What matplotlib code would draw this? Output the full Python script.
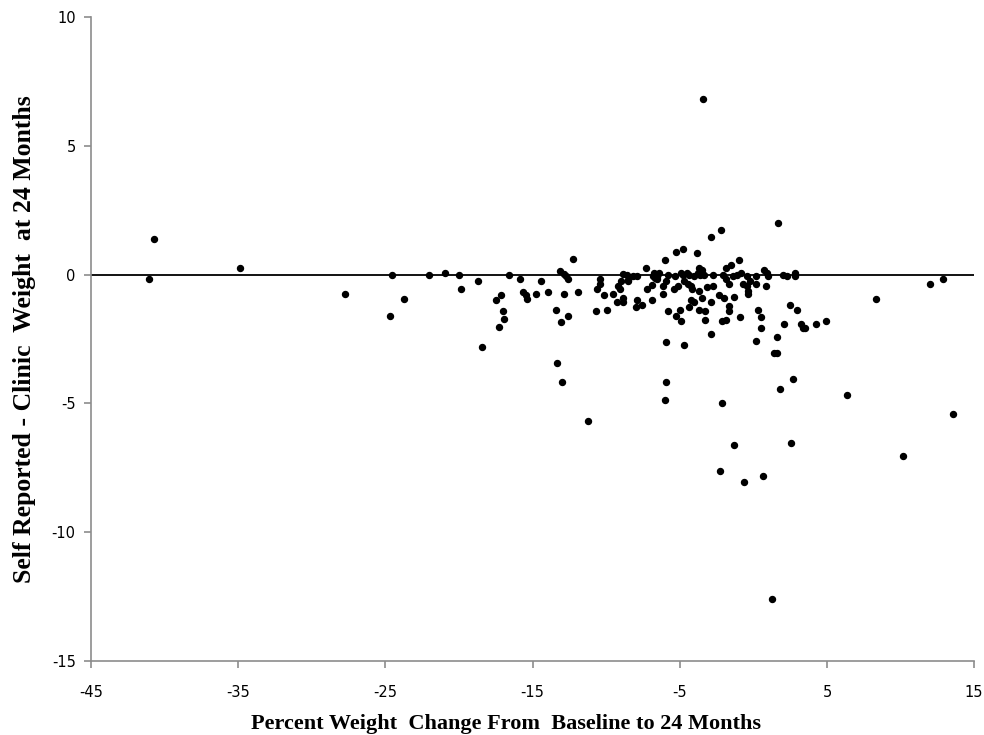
import matplotlib
matplotlib.use('Agg')
import matplotlib.pyplot as plt

plt.rcParams['axes.unicode_minus'] = False

# percent weight change (x) and self reported - clinic weight (y)
pct_change = [
    -40.72, -41.06, -34.86, -27.74, -24.57, -24.69,
    -23.71, -22.06, -20.97, -19.98, -19.89, -18.69, -18.47, -16.60, -17.49, -17.15,
    -17.03, -16.92, -17.26, -15.86, -15.65, -15.47, -15.40, -14.75, -14.41, -13.98,
    -13.43, -13.09, -12.58, -13.34, -13.00, -13.12, -12.89, -12.73, -12.62, -12.89,
    -12.26, -11.90, -11.25, -10.72, -10.40, -10.40, -10.61, -10.15, -9.95, -9.52,
    -9.29, -8.88, -8.84, -9.22, -9.07, -9.00, -8.84, -8.50, -8.16, -7.93, -7.32,
    -7.23, -7.89, -8.00, -7.55, -6.89, -6.89, -6.57, -6.43, -6.00, -5.26, -6.12,
    -6.12, -5.94, -5.80, -5.26, -5.92, -5.92, -6.00, -5.37,
    1.65, -2.20, -2.86, -4.81, -3.83, -1.00, -1.55, -1.86, -3.72, -3.49, -8.61,
    -6.85, -6.76, -6.54, -6.71,
    -5.80, -5.33, -4.92, -4.76, -4.53, -4.35, -4.04, -3.76, -3.61, -3.36, -2.77,
    -2.05, -1.37, -1.10, -0.87, -0.46, 0.20, 0.74, 0.90, 1.01, 2.01, 2.26, 2.83, 2.83,
    -8.52, -5.12, -5.01, -4.92, -4.69, -4.69, -4.47, -4.26, -4.15, -4.26, -4.04,
    -4.36, -3.72, -3.52, -3.72, -3.29, -3.29, -3.18, -2.86, -2.86, -2.75, -2.32,
    -1.98, -1.86, -1.66, -1.66, -1.66, -2.10, -1.86, -1.32, -0.89, -0.69, -0.46,
    -0.35, -0.35, -0.23, 0.20, 0.31, 0.54, 0.54, 0.20, 0.86, 1.63, 1.40, 1.58,
    1.83, 2.71, 2.51, 2.94, 2.06, 3.23, 3.34, 3.50, 4.25, 4.91, 8.31, 11.99, 12.85,
    6.33, 13.53, -2.10,
    -1.29, 2.53, 10.18, -2.29, -0.64, 0.65, 1.24, -3.40,
]
weight_diff = [
    1.37, -0.18, 0.26, -0.74, 0.00, -1.62,
    -0.93, 0.00, 0.08, 0.00, -0.56, -0.25, -2.80, 0.00, -0.98, -0.80,
    -1.42, -1.73, -2.04, -0.18, -0.66, -0.78, -0.93, -0.75, -0.25, -0.67,
    -1.36, -1.86, -1.62, -3.43, -4.18, 0.14, 0.01, -0.06, -0.19, -0.75,
    0.62, -0.67, -5.68, -1.42, -0.19, -0.35, -0.56, -0.80, -1.36, -0.75,
    -1.06, -0.92, -1.05, -0.45, -0.56, -0.26, 0.01, -0.23, -0.04, -0.05, 0.26,
    -0.57, -0.98, -1.25, -1.19, -0.98, -0.39, -0.08, 0.08, 0.57, 0.88, -0.75,
    -0.45, -0.25, -1.42, -1.62, -2.61, -4.18, -4.86, -0.56,
    2.01, 1.75, 1.44, 1.01, 0.82, 0.57, 0.38, 0.26, 0.26, 0.19, 0.00,
    -0.05, 0.07, -0.17, -0.15,
    0.00, -0.05, 0.07, 0.00, 0.07, 0.00, -0.05, 0.07, 0.00, 0.00, 0.00,
    0.00, -0.05, 0.00, 0.07, -0.05, -0.05, 0.17, 0.07, -0.05, 0.00, -0.05, 0.07, -0.05,
    -0.22, -0.43, -1.36, -1.81, -2.74, -0.23, -0.36, -0.45, -0.56, -1.00, -1.05,
    -1.25, -0.62, -0.92, -1.36, -1.42, -1.75, -0.49, -2.30, -1.05, -0.43, -0.80,
    -0.92, -0.19, -0.36, -1.23, -1.42, -1.81, -1.75, -0.87, -1.63, -0.36, -0.43,
    -0.65, -0.74, -0.23, -0.36, -1.36, -1.63, -2.06, -2.56, -0.43, -2.43, -3.06, -3.06,
    -4.43, -4.06, -1.18, -1.36, -1.93, -1.93, -2.06, -2.06, -1.93, -1.81, -0.93, -0.36, -0.19,
    -4.68, -5.43, -4.98,
    -6.61, -6.55, -7.05, -7.61, -8.05, -7.80, -12.60, 6.80,
]

x_ticks = [-45, -35, -25, -15, -5, 5, 15]
y_ticks = [-15, -10, -5, 0, 5, 10]

fig = plt.figure(figsize=(9.84, 7.35), dpi=100)
ax = fig.add_axes([0.0925, 0.1007, 0.8975, 0.8762])

ax.axhline(0, color='black', linewidth=1.3, zorder=1)
ax.plot(pct_change, weight_diff, 'o', color='black', markersize=4.3, zorder=2)

ax.set_xlim(-45, 15)
ax.set_ylim(-15, 10)
ax.set_xticks(x_ticks)
ax.set_yticks(y_ticks)

for side in ['top', 'right']:
    ax.spines[side].set_visible(False)
for side in ['left', 'bottom']:
    ax.spines[side].set_color('#8c8c8c')
    ax.spines[side].set_linewidth(1.2)
ax.tick_params(colors='#8c8c8c', length=5, width=1.2, labelcolor='black', labelsize=10.5)
ax.tick_params(axis='x', pad=12)
ax.tick_params(axis='y', pad=6)

ax.set_xlabel('Percent Weight  Change From  Baseline to 24 Months',
              family='Liberation Serif', fontweight='bold', fontsize=16)
ax.set_ylabel('Self Reported - Clinic  Weight  at 24 Months',
              family='Liberation Serif', fontweight='bold', fontsize=18.5)
ax.xaxis.set_label_coords(0.47, -0.083)
ax.yaxis.set_label_coords(-0.062, 0.5)

plt.savefig('out.png', dpi=100)
